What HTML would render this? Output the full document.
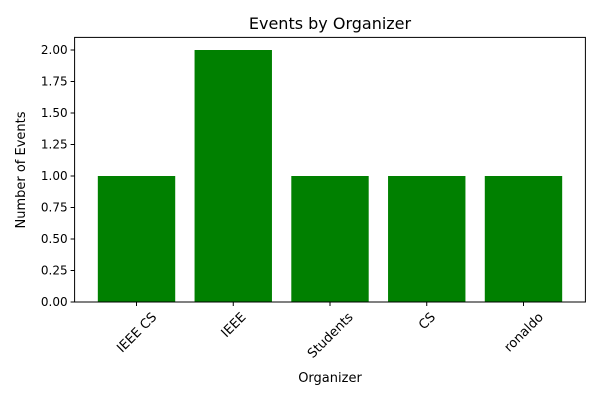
<!DOCTYPE html>
<html><head><meta charset="utf-8"><style>
body{margin:0;background:#fff;}
svg{font-family:"DejaVu Sans","Liberation Sans",sans-serif;}
</style></head><body>
<svg id="chart" width="600" height="400" viewBox="0 0 600 400">
<rect width="600" height="400" fill="#fff"/>
<text x="330" y="29" font-size="16" text-anchor="middle">Events by Organizer</text>
<text x="330" y="382" font-size="13" text-anchor="middle">Organizer</text>
<text transform="translate(25,170) rotate(-90)" font-size="13" text-anchor="middle">Number of Events</text>
<g id="bars"></g><g id="xt"></g><g id="yt"></g>
<rect x="74.6" y="37.4" width="510.8" height="264.6" fill="none" stroke="#000" stroke-width="1"/>
</svg>
<script>
const categories=["IEEE CS","IEEE","Students","CS","ronaldo"];
const values=[1,2,1,1,1];
const yTicks=[0,0.25,0.5,0.75,1,1.25,1.5,1.75,2];
const L=74.6,R=585.4,T=37.4,B=302,xmin=-0.64,xmax=4.64,ymax=2.1;
const ns="http://www.w3.org/2000/svg";
const xs=v=>L+(v-xmin)/(xmax-xmin)*(R-L);
const ys=v=>B-v/ymax*(B-T);
function mk(t,a,p){const e=document.createElementNS(ns,t);for(const k in a)e.setAttribute(k,a[k]);document.getElementById(p).appendChild(e);return e;}
categories.forEach((c,i)=>{
 const b=mk("rect",{x:xs(i-0.4),y:ys(values[i]),width:xs(i+0.4)-xs(i-0.4),height:B-ys(values[i]),fill:"#008000"},"bars");
 
 
 const tk=mk("line",{x1:xs(i),x2:xs(i),y1:B,y2:B+4,stroke:"#000"},"xt");
 
 
 const t=mk("text",{"font-size":"13","text-anchor":"middle",dy:"0.35em"},"xt");
 t.textContent=c;
 
 
 const w=t.getComputedTextLength();
 const h=(w+13)*0.7071;
 t.setAttribute('transform',`translate(${xs(i)},${B+8+h/2}) rotate(-45)`);
});
yTicks.forEach(v=>{
 const tk=mk("line",{x1:L-4,x2:L,y1:ys(v),y2:ys(v),stroke:"#000"},"yt");
 
 
 const t=mk("text",{x:L-7,y:ys(v)+4,"font-size":"12","text-anchor":"end"},"yt");
 t.textContent=v.toFixed(2);
 
 
});
</script>
</body></html>
